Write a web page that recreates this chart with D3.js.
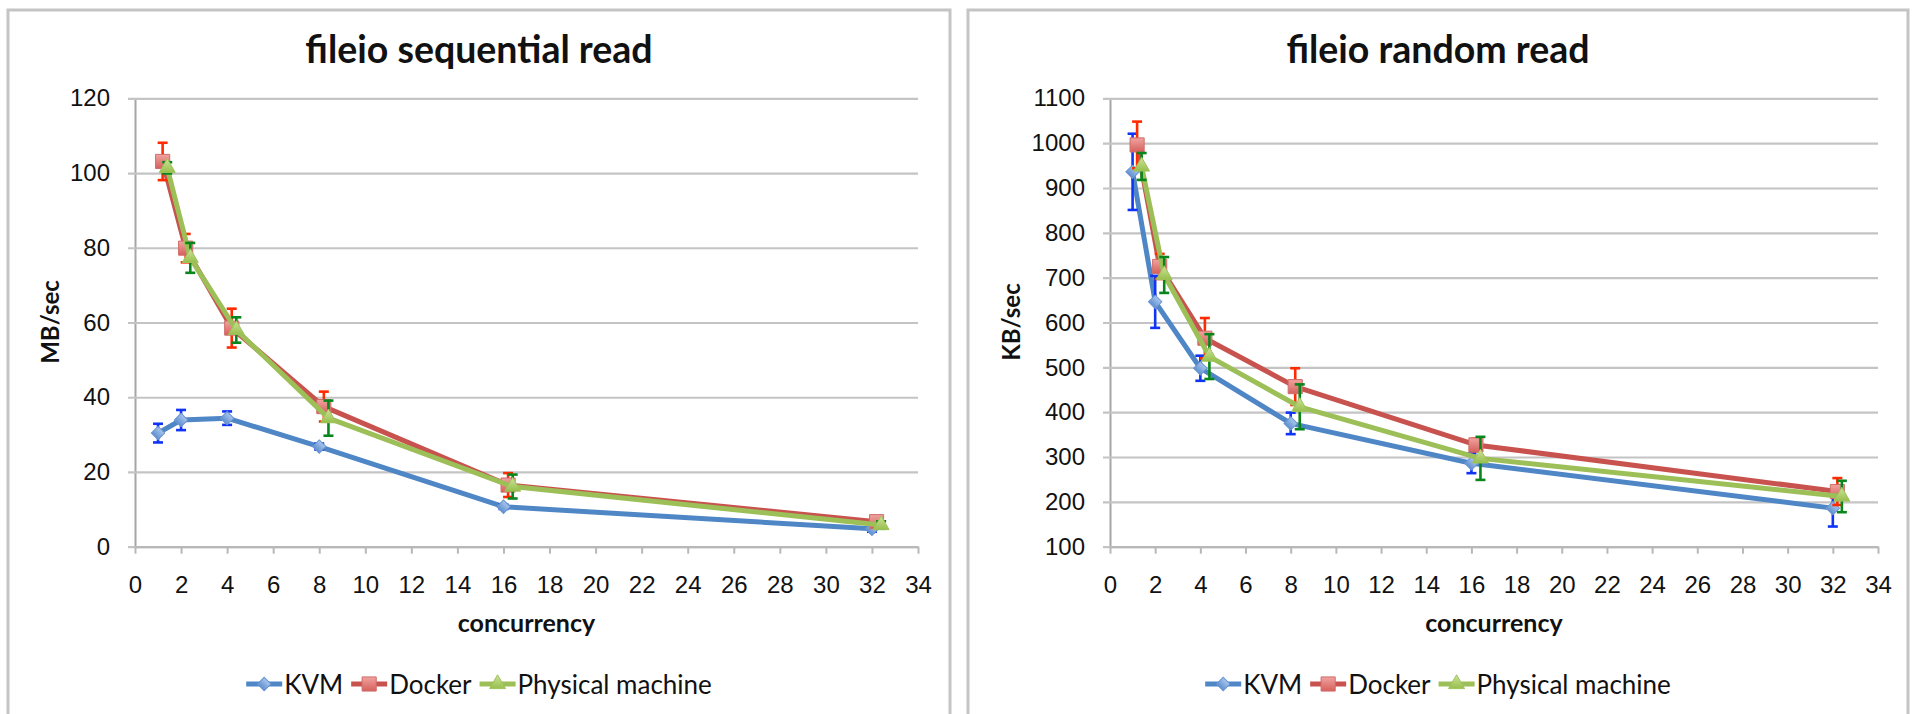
<!DOCTYPE html>
<html>
<head>
<meta charset="utf-8">
<script src="https://cdn.jsdelivr.net/npm/d3@7"></script>
<style>
  body { margin: 0; background: #fff; }
  svg { display: block; font-family: Lato, "Liberation Sans", sans-serif; }
</style>
</head>
<body>
<svg id="chart" width="1913" height="714"></svg>
<script>
// series names
const seriesNames = ['KVM', 'Docker', 'Physical machine'];

// concurrency (x) values, docker / physical are shifted a bit in the source sheet
const kvmX = [1, 2, 4, 8, 16, 32];
const dockerX = [1.2, 2.2, 4.2, 8.2, 16.2, 32.2];
const physX = [1.4, 2.4, 4.4, 8.4, 16.4, 32.4];

// fileio sequential read, MB/sec
const seqKvm = [30.4, 33.9, 34.4, 26.8, 10.7, 4.8];
const seqKvmErr = [2.5, 2.7, 1.8, 0.8, 0.6, 0.8];
const seqDocker = [103.1, 79.9, 58.5, 37.5, 16.5, 6.7];
const seqDockerErr = [5.0, 3.8, 5.2, 4.0, 3.2, 1.0];
const seqPhys = [101.4, 77.3, 58.0, 34.4, 16.1, 5.8];
const seqPhysErr = [1.5, 4.0, 3.4, 4.7, 3.2, 1.0];

// fileio random read, KB/sec
const randKvm = [936, 646, 498, 375, 286, 186];
const randKvmErr = [85, 58, 28, 24, 22, 41];
const randDocker = [996, 725, 565, 457, 327, 223];
const randDockerErr = [52, 28, 45, 41, 14, 30];
const randPhys = [948, 706, 524, 412, 297, 212];
const randPhysErr = [30, 40, 50, 50, 48, 35];

// tick labels
const xTicks = d3.range(0, 35, 2);
const seqTicks = d3.range(0, 121, 20);
const randTicks = d3.range(100, 1101, 100);

const svg = d3.select('#chart');

// marker gradients
const defs = svg.append('defs');
const grads = [
    ['gKvm', '#a9c6ec', '#5f8fcf'],
    ['gDocker', '#f0a3a0', '#d6605c'],
    ['gPhys', '#cde39a', '#97bf4c']
];
grads.forEach(g => {
    const lg = defs.append('linearGradient').attr('id', g[0])
        .attr('x1', 0).attr('y1', 0).attr('x2', 0).attr('y2', 1);
    lg.append('stop').attr('offset', '0%').attr('stop-color', g[1]);
    lg.append('stop').attr('offset', '100%').attr('stop-color', g[2]);
});

const styles = [
    { line: '#4f86c6', err: '#1034f5', fill: 'url(#gKvm)', stroke: '#6a95cf',
      symbol: d3.symbol(d3.symbolSquare, 90), rotate: 45 },
    { line: '#c8524e', err: '#ff2a00', fill: 'url(#gDocker)', stroke: '#d06e6a',
      symbol: d3.symbol(d3.symbolSquare, 200), rotate: 0 },
    { line: '#9cbf58', err: '#08861c', fill: 'url(#gPhys)', stroke: '#9fc25a',
      symbol: d3.symbol(d3.symbolTriangle, 110), rotate: 0 }
];

function drawChart(cfg) {
    const g = svg.append('g');

    // panel frame
    g.append('rect')
        .attr('x', cfg.panel[0]).attr('y', 10)
        .attr('width', cfg.panel[1] - cfg.panel[0]).attr('height', 760)
        .attr('fill', '#fff').attr('stroke', '#c4c4c4').attr('stroke-width', 3);

    const x = d3.scaleLinear().domain([0, 34]).range([cfg.left, cfg.right]);
    const y = d3.scaleLinear().domain(cfg.yDomain).range([546.7, 98.3]);
    const w = cfg.right - cfg.left;

    // y gridlines + labels
    const yAxis = g.append('g')
        .attr('transform', `translate(${cfg.left},0)`)
        .call(d3.axisLeft(y).tickValues(cfg.yTicks).tickFormat(d3.format('d'))
            .tickSize(-w).tickSizeOuter(0).tickPadding(25));
    yAxis.select('.domain').attr('stroke', '#a6a6a6').attr('stroke-width', 2);
    yAxis.selectAll('.tick line').attr('x1', -7).attr('stroke', '#c4c4c4').attr('stroke-width', 2.2);
    yAxis.selectAll('.tick text').attr('font-size', 24).attr('fill', '#111');

    // x axis
    const xAxis = g.append('g')
        .attr('transform', 'translate(0,546.7)')
        .call(d3.axisBottom(x).tickValues(xTicks).tickSize(7).tickSizeOuter(0));
    xAxis.select('.domain').attr('stroke', '#b8b8b8').attr('stroke-width', 2.2);
    xAxis.selectAll('.tick line').attr('stroke', '#b8b8b8').attr('stroke-width', 2);
    xAxis.selectAll('.tick text').attr('dy', null).attr('y', 46)
        .attr('font-size', 24).attr('fill', '#111');

    // titles
    const mid = (cfg.panel[0] + cfg.panel[1]) / 2;
    g.append('text').attr('x', mid).attr('y', 63).attr('text-anchor', 'middle')
        .attr('font-size', 37.5).attr('font-weight', 'bold').attr('fill', '#111')
        .text(cfg.title);
    g.append('text').attr('x', (cfg.left + cfg.right) / 2).attr('y', 632)
        .attr('text-anchor', 'middle').attr('font-size', 25).attr('font-weight', 'bold')
        .attr('fill', '#111').text('concurrency');
    g.append('text')
        .attr('transform', `translate(${cfg.yTitleX},322) rotate(-90)`)
        .attr('text-anchor', 'middle').attr('dy', '0.35em')
        .attr('font-size', 24).attr('font-weight', 'bold').attr('fill', '#111')
        .text(cfg.yTitle);

    // series
    const line = d3.line().x(d => x(d.x)).y(d => y(d.y));
    cfg.series.forEach((s, i) => {
        const st = styles[i];
        const pts = s.xs.map((v, j) => ({ x: v, y: s.ys[j], e: s.err[j] }));
        const sg = g.append('g');
        sg.append('path').datum(pts).attr('d', line)
            .attr('fill', 'none').attr('stroke', st.line).attr('stroke-width', 5)
            .attr('stroke-linejoin', 'round');
        const eb = sg.selectAll('.eb').data(pts).join('g')
            .attr('stroke', st.err).attr('stroke-width', 2.6);
        eb.append('line').attr('x1', d => x(d.x)).attr('x2', d => x(d.x))
            .attr('y1', d => y(d.y - d.e)).attr('y2', d => y(d.y + d.e));
        eb.append('line').attr('x1', d => x(d.x) - 5).attr('x2', d => x(d.x) + 5)
            .attr('y1', d => y(d.y + d.e)).attr('y2', d => y(d.y + d.e));
        eb.append('line').attr('x1', d => x(d.x) - 5).attr('x2', d => x(d.x) + 5)
            .attr('y1', d => y(d.y - d.e)).attr('y2', d => y(d.y - d.e));
        sg.selectAll('.mk').data(pts).join('path')
            .attr('d', st.symbol)
            .attr('transform', d => `translate(${x(d.x)},${y(d.y)}) rotate(${st.rotate})`)
            .attr('fill', st.fill).attr('stroke', st.stroke).attr('stroke-width', 1);
    });

    // legend
    const lg = g.append('g');
    let pos = 0;
    seriesNames.forEach((name, i) => {
        const st = styles[i];
        const it = lg.append('g').attr('transform', `translate(${pos},0)`);
        it.append('line').attr('x1', 0).attr('x2', 36).attr('y1', 0).attr('y2', 0)
            .attr('stroke', st.line).attr('stroke-width', 5);
        it.append('path').attr('d', st.symbol)
            .attr('transform', `translate(18,0) rotate(${st.rotate})`)
            .attr('fill', st.fill).attr('stroke', st.stroke);
        const t = it.append('text').attr('x', 38).attr('y', 9.5)
            .attr('font-size', 26).attr('fill', '#111').text(name);
        pos += 38 + t.node().getComputedTextLength() + 8;
    });
    lg.attr('transform', `translate(${mid - (pos - 8) / 2},684)`);
}

drawChart({
    panel: [8, 950], left: 135, right: 918, yTitleX: 51,
    yDomain: [0, 120], yTicks: seqTicks,
    title: 'fileio sequential read', yTitle: 'MB/sec',
    series: [
        { xs: kvmX, ys: seqKvm, err: seqKvmErr },
        { xs: dockerX, ys: seqDocker, err: seqDockerErr },
        { xs: physX, ys: seqPhys, err: seqPhysErr }
    ]
});

drawChart({
    panel: [968, 1908], left: 1110, right: 1878, yTitleX: 1012,
    yDomain: [100, 1100], yTicks: randTicks,
    title: 'fileio random read', yTitle: 'KB/sec',
    series: [
        { xs: kvmX, ys: randKvm, err: randKvmErr },
        { xs: dockerX, ys: randDocker, err: randDockerErr },
        { xs: physX, ys: randPhys, err: randPhysErr }
    ]
});
</script>
</body>
</html>
